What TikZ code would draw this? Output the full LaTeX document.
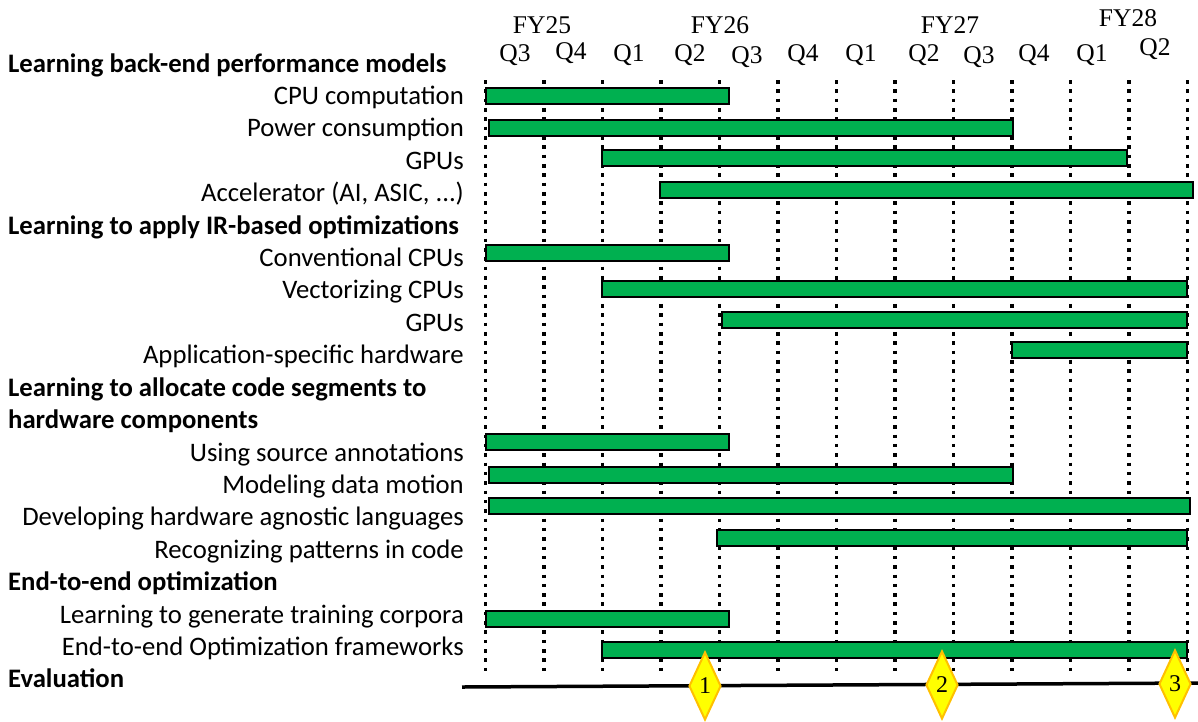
\documentclass[tikz,border=0pt]{standalone}
\usepackage{fontspec}
\setmainfont{Liberation Serif}
\newfontfamily\labelfont{Carlito}
\usetikzlibrary{shapes.geometric}
\definecolor{barGreen}{HTML}{00B050}
\definecolor{msYellow}{HTML}{FFFF00}
\definecolor{msOrange}{HTML}{FFC000}
\tikzset{
  item/.style={anchor=base east, inner sep=0pt, font=\labelfont\fontsize{26.7}{26.7}\selectfont},
  group/.style={anchor=base west, inner sep=0pt, font=\labelfont\bfseries\fontsize{26.7}{26.7}\selectfont},
  period/.style={inner sep=0pt, font=\fontsize{25.5}{25.5}\selectfont},
  grid/.style={line width=3.6pt, dash pattern=on 3.6pt off 5.73pt},
  taskbar/.style={draw=black, line width=2.6pt, fill=barGreen},
  milestone/.style={diamond, draw=msOrange, fill=msYellow, line width=2pt,
    minimum width=32pt, minimum height=68pt, inner sep=0pt,
    font=\fontsize{24}{24}\selectfont}
}
\begin{document}
\begin{tikzpicture}[x=1pt, y=-1pt]
\useasboundingbox (0,0) rectangle (1198,721);

% fiscal years and quarters
\node[period] (fy25) at (542,25) {FY25};
\node[period] (fy26) at (720,25) {FY26};
\node[period] (fy27) at (950,25) {FY27};
\node[period] (fy28) at (1128,18) {FY28};
\foreach \q/\x/\y [count=\i] in {Q3/515/55, Q4/571/53, Q1/629/55, Q2/690/55, Q3/747/57, Q4/803/55,
    Q1/861/55, Q2/924/55, Q3/979/57, Q4/1034/55, Q1/1092/55, Q2/1155/49}
  \node[period] (q\i) at (\x,\y) {\q};

% quarter boundaries
\foreach \i in {0,...,12}
  \draw[grid] ({485.5+58.5*\i},80) -- ({485.5+58.5*\i},671);

% row labels
\def\rowy#1{72+32.42*#1}
\node[group] (g1) at (8,{\rowy{0}}) {Learning back-end performance models};
\node[item] (t1) at (464,{\rowy{1}}) {CPU computation};
\node[item] (t2) at (464,{\rowy{2}}) {Power consumption};
\node[item] (t3) at (464,{\rowy{3}}) {GPUs};
\node[item] (t4) at (464,{\rowy{4}}) {Accelerator (AI, ASIC, ...)};
\node[group] (g2) at (8,{\rowy{5}}) {Learning to apply IR-based optimizations};
\node[item] (t5) at (464,{\rowy{6}}) {Conventional CPUs};
\node[item] (t6) at (464,{\rowy{7}}) {Vectorizing CPUs};
\node[item] (t7) at (464,{\rowy{8}}) {GPUs};
\node[item] (t8) at (464,{\rowy{9}}) {Application-specific hardware};
\node[group] (g3) at (8,{\rowy{10}}) {Learning to allocate code segments to};
\node[group] (g3b) at (8,{\rowy{11}}) {hardware components};
\node[item] (t9) at (464,{\rowy{12}}) {Using source annotations};
\node[item] (t10) at (464,{\rowy{13}}) {Modeling data motion};
\node[item] (t11) at (464,{\rowy{14}}) {Developing hardware agnostic languages};
\node[item] (t12) at (464,{\rowy{15}}) {Recognizing patterns in code};
\node[group] (g4) at (8,{\rowy{16}}) {End-to-end optimization};
\node[item] (t13) at (464,{\rowy{17}}) {Learning to generate training corpora};
\node[item] (t14) at (464,{\rowy{18}}) {End-to-end Optimization frameworks};
\node[group] (g5) at (8,{\rowy{19}}) {Evaluation};

% task bars: start, end, top edge
\foreach \xa/\xb/\ya in {486/729/88, 489/1013/120, 602/1127/150, 660/1193/182,
    486/729/245, 602/1187/281, 722/1187/312, 1012/1187/342,
    486/729/434, 489/1013/467, 489/1190/498, 717/1187/530,
    486/729/611, 602/1187/642}
  \draw[taskbar] (\xa,\ya) rectangle (\xb,{\ya+16});

% evaluation timeline and milestones
\coordinate (evalstart) at (462,687);
\coordinate (evalend) at (1198,683);
\draw[line width=3.5pt] (evalstart) -- (evalend);
\node[milestone] (m1) at (705,686) {1};
\node[milestone] (m2) at (942,685) {2};
\node[milestone] (m3) at (1175,684) {3};
\end{tikzpicture}
\end{document}
